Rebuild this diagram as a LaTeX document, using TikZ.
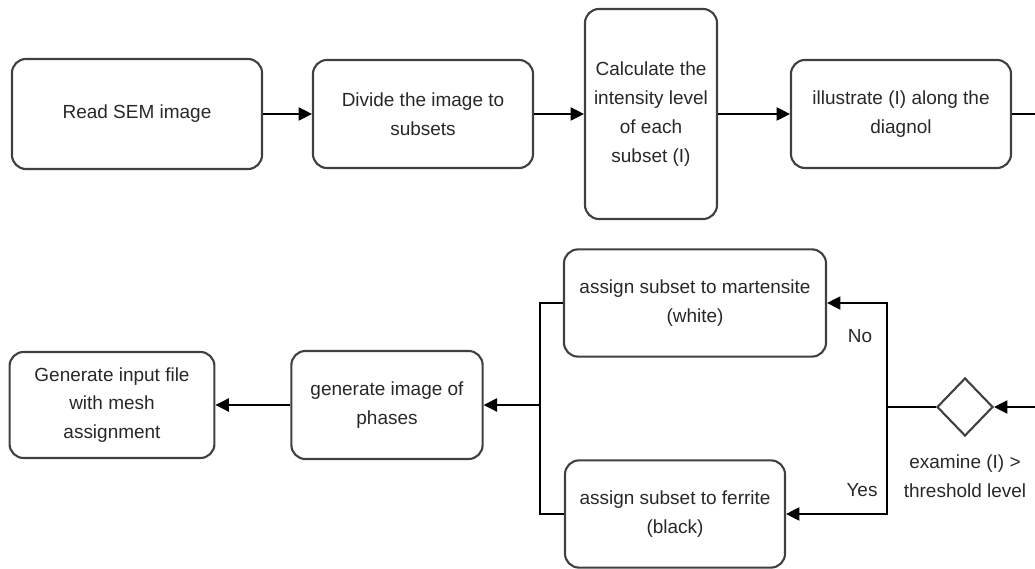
\documentclass[tikz,border=0pt]{standalone}
\usepackage{fontspec}
\setmainfont{Liberation Sans}
\usepackage{xcolor}
\definecolor{flowgray}{RGB}{64,64,64}
\definecolor{flowtext}{RGB}{40,40,40}
\usepackage{tikz}
\usetikzlibrary{arrows.meta,positioning,shapes.geometric,calc}

\begin{document}
\begin{tikzpicture}[
  x=0.025cm, y=-0.025cm,
  every node/.style={font=\fontsize{13.5}{20.5}\selectfont,text=flowtext},
  stepbox/.style={draw=flowgray,line width=1.5pt,rounded corners=10pt,fill=white,
                  align=center,inner sep=4pt},
  decide/.style={draw=flowgray,line width=1.5pt,diamond,minimum width=1.4cm,
                 minimum height=1.45cm,inner sep=0pt},
  flow/.style={draw=black,line width=0.8pt},
  flowarrow/.style={flow,-{Triangle[length=9.5pt,width=9.5pt]}},
]
  \useasboundingbox (0,0) rectangle (1035,569);
  % Row 1
  \node[stepbox,minimum width=6.25cm,minimum height=2.75cm] (read) at (137,114) {Read SEM image};
  \node[stepbox,minimum width=5.5cm,minimum height=2.7cm] (divide) at (423,114) {Divide the image to\\subsets};
  \node[stepbox,minimum width=3.3cm,minimum height=5.25cm] (calc) at (651,114) {Calculate the\\intensity level\\of each\\subset (I)};
  \node[stepbox,minimum width=5.5cm,minimum height=2.7cm] (illus) at (901,114) {illustrate (I) along the\\diagnol};
  \coordinate (outR) at (1035,114);
  % Row 2
  \node[decide] (exam) at (965,407) {};
  \node[below=9pt of exam,align=center] (examlbl) {examine (I) >\\threshold level};
  \coordinate (inR) at (1035,407);
  \node[stepbox,minimum width=6.55cm,minimum height=2.68cm] (mart) at (695,303) {assign subset to martensite\\(white)};
  \node[stepbox,minimum width=5.5cm,minimum height=2.68cm] (fer) at (675,514) {assign subset to ferrite\\(black)};
  \node[stepbox,minimum width=4.78cm,minimum height=2.7cm] (phase) at (387,405) {generate image of\\phases};
  \node[stepbox,minimum width=5.12cm,minimum height=2.65cm] (input) at (112,405) {Generate input file\\with mesh\\assignment};
  \coordinate (split) at (887,407);
  \coordinate (join) at (540,405);
  \node (no) at (860,336) {No};
  \node (yes) at (862,490) {Yes};
  % Connectors
  \draw[flowarrow] (read) -- (divide);
  \draw[flowarrow] (divide) -- (calc);
  \draw[flowarrow] (calc) -- (illus);
  \draw[flow] (illus) -- (outR);
  \draw[flowarrow] (inR) -- (exam);
  \draw[flow] (exam) -- (split);
  \draw[flowarrow] (split) |- (mart);
  \draw[flowarrow] (split) |- (fer);
  \draw[flow] (mart) -| (join);
  \draw[flow] (fer) -| (join);
  \draw[flowarrow] (join) -- (phase);
  \draw[flowarrow] (phase) -- (input);
\end{tikzpicture}
\end{document}
